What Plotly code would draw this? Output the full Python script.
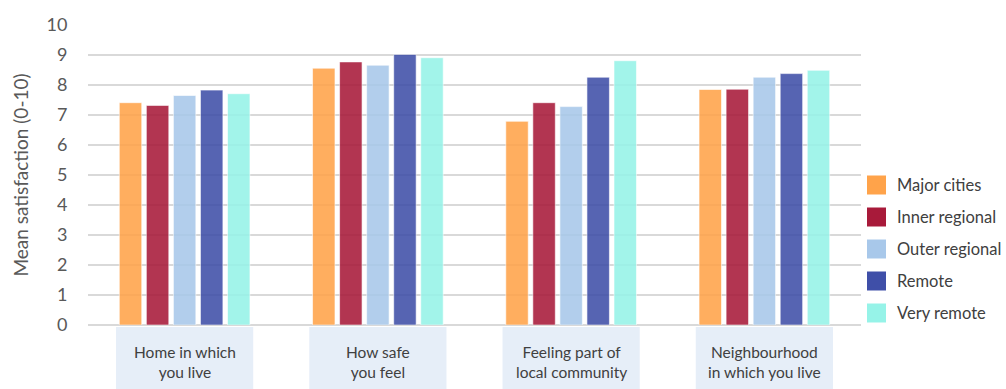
import plotly.graph_objects as go

categories = ["Home in which<br>you live", "How safe<br>you feel",
              "Feeling part of<br>local community", "Neighbourhood<br>in which you live"]
series_names = ["Major cities", "Inner regional", "Outer regional", "Remote", "Very remote"]
major_cities = [7.41, 8.56, 6.79, 7.85]
inner_regional = [7.32, 8.77, 7.41, 7.86]
outer_regional = [7.65, 8.66, 7.28, 8.26]
remote = [7.83, 9.02, 8.26, 8.38]
very_remote = [7.71, 8.91, 8.81, 8.49]
series_values = [major_cities, inner_regional, outer_regional, remote, very_remote]
colors = ["#FFA34A", "#A81A3A", "#A8C8EA", "#3F4FA8", "#96F3E8"]
y_ticks = list(range(0, 11))

W, H = 1006, 389
ml, mr, mt, mb = 88, 145, 25, 64
ph = H - mt - mb

fig = go.Figure()
xs = list(range(len(categories)))
for name, vals, col in zip(series_names, series_values, colors):
    fig.add_trace(go.Bar(x=xs, y=vals, name=name, showlegend=False,
                         marker=dict(color=col, opacity=0.88,
                                     line=dict(color="rgba(255,255,255,0.6)", width=1))))

# category label boxes and text
for i, c in enumerate(categories):
    fig.add_shape(type="rect", xref="x", yref="paper", x0=i - 0.355, x1=i + 0.355,
                  y0=-(327 - (H - mb)) / ph, y1=-(389 - (H - mb)) / ph,
                  fillcolor="#E6EEF8", line=dict(width=0), layer="below")
    fig.add_annotation(x=i, xref="x", y=-(362 - (H - mb)) / ph, yref="paper",
                       yanchor="middle", xanchor="center",
                       text=c, showarrow=False, align="center",
                       font=dict(size=15.5, color="#404040", family="Lato"))

# manual legend
for k, (name, col) in enumerate(zip(series_names, colors)):
    yc = 185 + k * 32
    yp = 1 - (yc - mt) / ph
    y0 = 1 - (yc - 9.5 - mt) / ph
    y1 = 1 - (yc + 9.5 - mt) / ph
    x0 = 1 + (867 - (W - mr)) / (W - ml - mr)
    x1 = 1 + (886 - (W - mr)) / (W - ml - mr)
    fig.add_shape(type="rect", xref="paper", yref="paper", x0=x0, x1=x1, y0=y0, y1=y1,
                  fillcolor=col, line=dict(width=0))
    fig.add_annotation(xref="paper", yref="paper",
                       x=1 + (895 - (W - mr)) / (W - ml - mr), y=yp,
                       xanchor="left", yanchor="middle", text=name, showarrow=False,
                       font=dict(size=16.5, color="#404040", family="Lato"))

fig.update_layout(
    width=W, height=H,
    margin=dict(l=ml, r=mr, t=mt, b=mb),
    paper_bgcolor="white", plot_bgcolor="white",
    barmode="group", bargap=0.30, bargroupgap=0.17,
    font=dict(family="Lato", color="#595959"),
)
fig.update_xaxes(range=[-0.5, 3.5], showticklabels=False, showgrid=False,
                 zeroline=False, showline=False)
fig.update_yaxes(range=[0, 10], tickvals=y_ticks, showgrid=True, gridcolor="#D9D9D9",
                 gridwidth=1.5, zeroline=True, zerolinecolor="#D9D9D9", zerolinewidth=1.5,
                 tickfont=dict(size=18, color="#595959", family="Lato"),
                 ticks="outside", ticklen=16, tickcolor="rgba(0,0,0,0)",
                 title=dict(text="Mean satisfaction (0-10)", standoff=12,
                            font=dict(size=19, color="#595959", family="Lato")))

fig.write_html("out.html")
